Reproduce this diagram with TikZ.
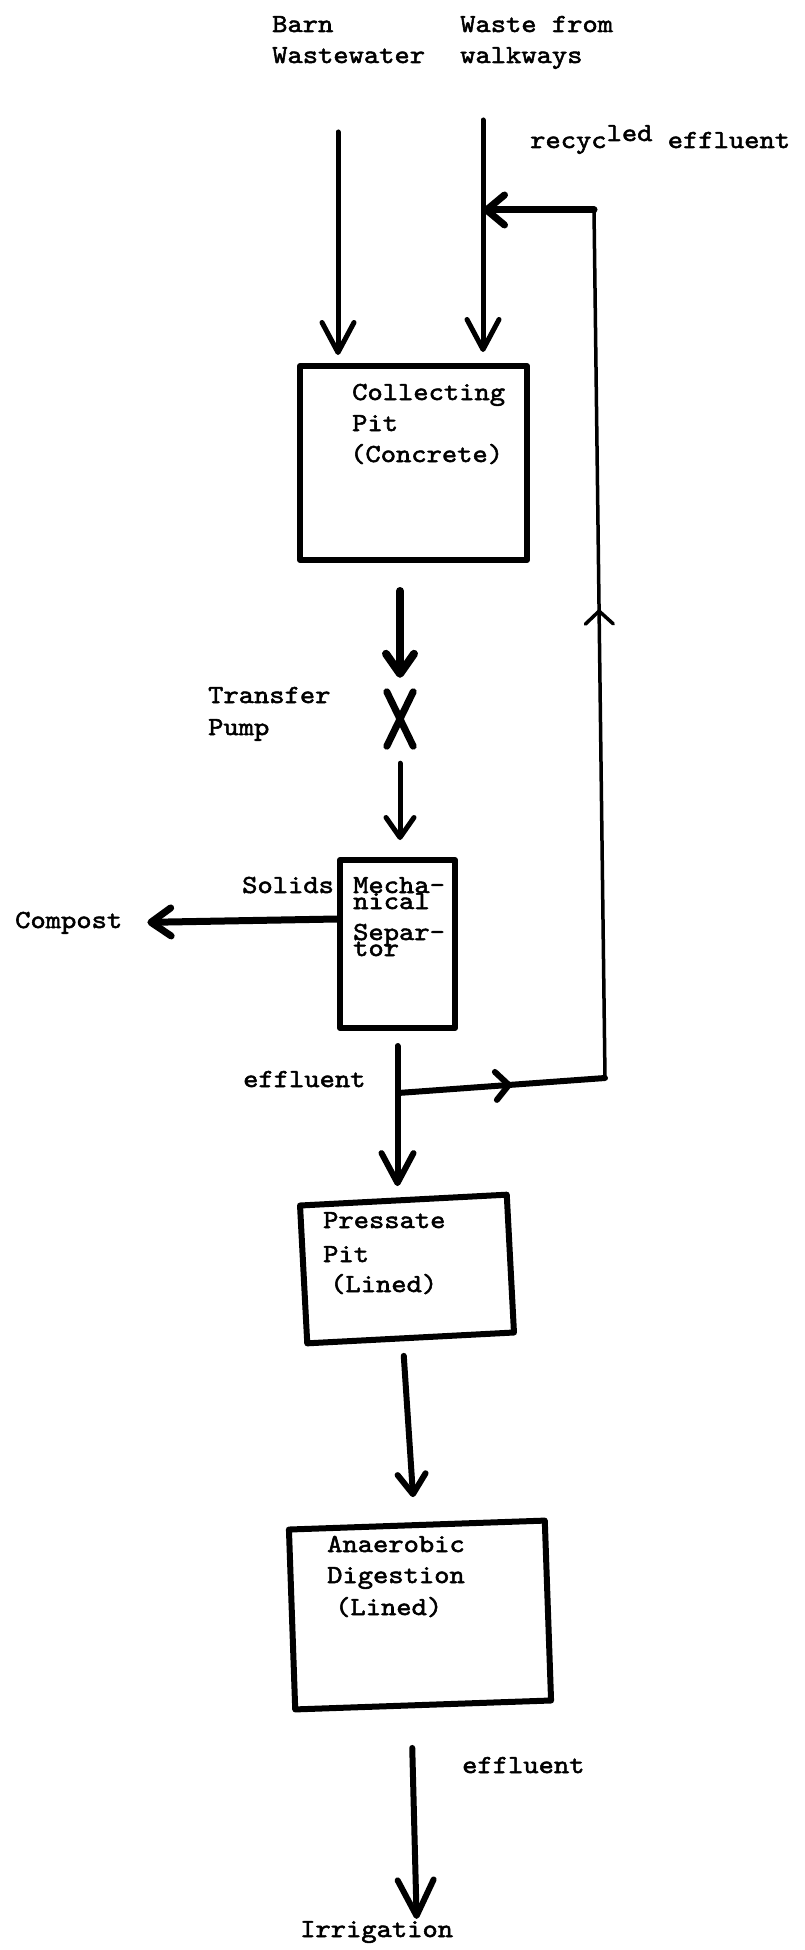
\documentclass[tikz,border=0pt]{standalone}
\usepackage{fontspec}
\newfontfamily\tw[FakeStretch=1.12,FakeBold=2]{lmmono10-regular.otf}
\usetikzlibrary{arrows.meta,decorations.markings,calc}
\begin{document}
\begin{tikzpicture}[x=1pt,y=-1pt,
  lbl/.style={font=\tw\fontsize{26}{30}\selectfont, anchor=base west, inner sep=0pt},
  boxst/.style={draw, line width=6pt, line join=round, inner sep=0pt},
  arr/.style={line width=5pt, line cap=round, -{Straight Barb[length=30pt,width=32pt,line cap=round,line join=round]}},
  arrs/.style={line width=6pt, line cap=round, -{Straight Barb[length=20pt,width=28pt,line cap=round,line join=round]}},
  midarr/.style={postaction={decorate}, decoration={markings, mark=at position #1 with {\arrow{Straight Barb[length=13pt,width=28pt,line cap=round,line join=round]}}}}
]
\useasboundingbox (0,0) rectangle (804,1950);

% ---------- texts ----------
\node[lbl] (barn1) at (272,32) {Barn};
\node[lbl] (barn2) at (272,63) {Wastewater};
\node[lbl] (waste1) at (460,32) {Waste from};
\node[lbl] (waste2) at (460,63) {walkways};
\node[lbl] (rec) at (530,148) {recyc\raisebox{7pt}{led} effluent};

% ---------- boxes ----------
\node[boxst, minimum width=227pt, minimum height=194pt] (cp) at (413.5,463) {};
\node[lbl] (cp1) at (352,400) {Collecting};
\node[lbl] (cp2) at (352,431) {Pit};
\node[lbl] (cp3) at (350,462) {(Concrete)};

\node[inner sep=0pt, minimum width=26pt, minimum height=54pt] (pump) at (400,719) {};
\draw[line width=7pt, line cap=round] (pump.north west) -- (pump.south east)
      (pump.north east) -- (pump.south west);
\node[lbl] (tr1) at (208,703) {Transfer};
\node[lbl] (tr2) at (208,735) {Pump};

\node[boxst, minimum width=115pt, minimum height=168pt] (ms) at (397.5,944) {};
\node[lbl] (ms1) at (353,893) {Mecha-};
\node[lbl] (ms2) at (353,909) {nical};
\node[lbl] (ms3) at (353,940) {Separ-};
\node[lbl] (ms4) at (353,956) {tor};
\node[lbl] (solids) at (242,893) {Solids};
\node[lbl] (compost) at (15,928) {Compost};
\node[lbl] (eff1) at (243,1087) {effluent};

\node[boxst, minimum width=207pt, minimum height=138pt, rotate=3] (pp) at (407,1269) {};
\node[lbl] (pp1) at (323,1228) {Pressate};
\node[lbl] (pp2) at (323,1262) {Pit};
\node[lbl] (pp3) at (330,1292) {(Lined)};

\node[boxst, minimum width=256pt, minimum height=180pt, rotate=2] (ad) at (420,1615) {};
\node[lbl] (ad1) at (327,1552) {Anaerobic};
\node[lbl] (ad2) at (327,1583) {Digestion};
\node[lbl] (ad3) at (335,1615) {(Lined)};

\node[lbl] (eff2) at (462,1773) {effluent};
\node[lbl] (irr) at (300,1937) {Irrigation};

% ---------- free ends ----------
\coordinate (btop) at (338,132);
\coordinate (wtop) at (483,120);
\coordinate (br) at (398,1093);
\coordinate (rc1) at (605,1078);
\coordinate (rc2) at (594,210);

% ---------- connectors ----------
\draw[arr, shorten >=8pt] (btop) -- (btop |- cp.north);
\draw[arr, shorten >=11pt] (wtop) -- (wtop |- cp.north);

\draw[arrs, line width=8pt] ([yshift=-28pt]cp.south -| pump) -- ([yshift=14pt]pump.north);
\draw[arrs, line width=5pt] ([yshift=-17pt]pump.south) -- ([yshift=17pt]ms.north -| pump);

\draw[arrs, line width=7pt, shorten >=25pt] ([yshift=25pt]ms.west) -- (compost.east);

\draw[arr, line width=6pt, shorten >=26pt] ([yshift=-15pt]ms.south) -- ([yshift=-15pt]ms.south |- pp.north);

% recycle loop
\draw[line width=6pt, line cap=round, midarr=0.55] (br) -- (rc1);
\draw[line width=3.5pt, line cap=round, midarr=0.54] (rc1) -- (rc2);
\draw[line width=7pt, line cap=round, -{Straight Barb[length=18pt,width=30pt,line cap=round,line join=round]}] (rc2) -- (rc2 -| wtop);

\draw[arrs, line width=6pt, shorten >=25pt] ([xshift=-7pt,yshift=-15pt]pp.south) -- ([xshift=-2pt]ad.north);
\draw[arr, line width=6pt, -{Straight Barb[length=36pt,width=36pt,line cap=round,line join=round]}] ([xshift=-11pt,yshift=-40pt]ad.south) -- ([xshift=40pt,yshift=2pt]irr.north);
\end{tikzpicture}
\end{document}
